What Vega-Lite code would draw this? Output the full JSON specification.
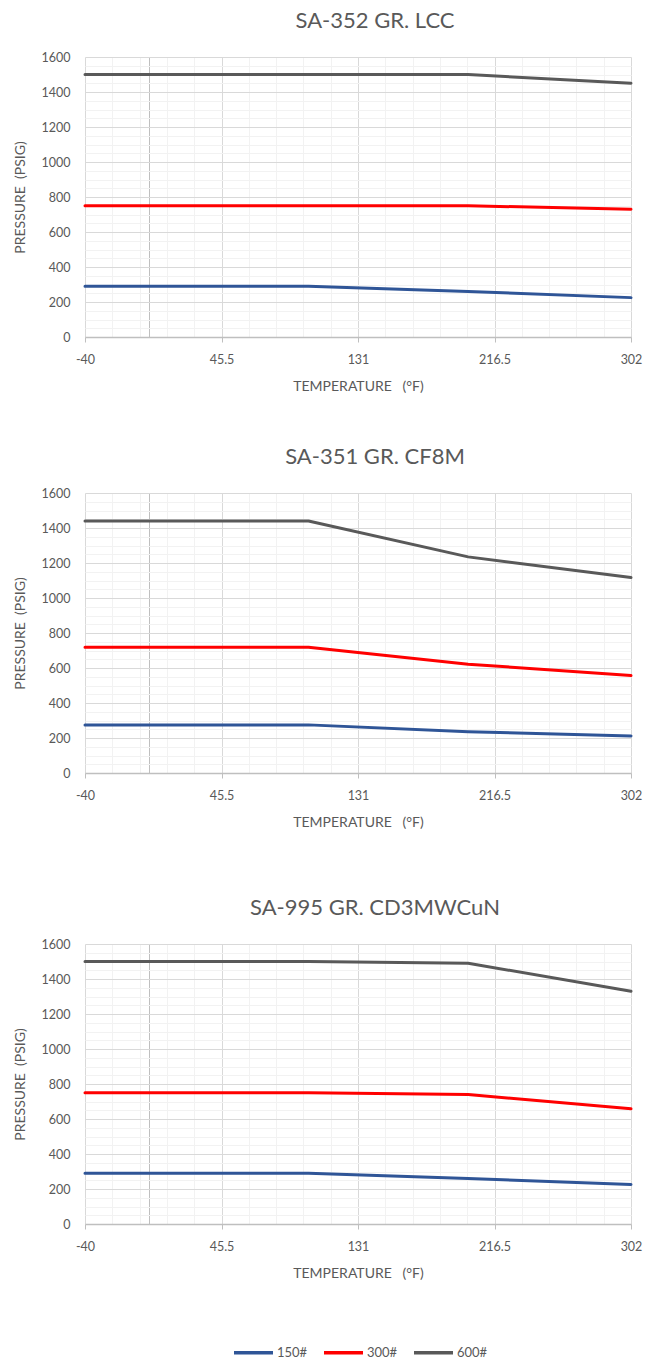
{
  "$schema": "https://vega.github.io/schema/vega-lite/v6.json",
  "background": "white",
  "padding": {"left": 13, "top": 10, "right": 5, "bottom": 5},
  "datasets": {
    "ratings": [
      {"material": "SA-352 GR. LCC", "cls": "150#", "temp": -40, "pressure": 290},
      {"material": "SA-352 GR. LCC", "cls": "150#", "temp": 100, "pressure": 290},
      {"material": "SA-352 GR. LCC", "cls": "150#", "temp": 200, "pressure": 260},
      {"material": "SA-352 GR. LCC", "cls": "150#", "temp": 302, "pressure": 225},
      {"material": "SA-352 GR. LCC", "cls": "300#", "temp": -40, "pressure": 750},
      {"material": "SA-352 GR. LCC", "cls": "300#", "temp": 100, "pressure": 750},
      {"material": "SA-352 GR. LCC", "cls": "300#", "temp": 200, "pressure": 750},
      {"material": "SA-352 GR. LCC", "cls": "300#", "temp": 302, "pressure": 730},
      {"material": "SA-352 GR. LCC", "cls": "600#", "temp": -40, "pressure": 1500},
      {"material": "SA-352 GR. LCC", "cls": "600#", "temp": 100, "pressure": 1500},
      {"material": "SA-352 GR. LCC", "cls": "600#", "temp": 200, "pressure": 1500},
      {"material": "SA-352 GR. LCC", "cls": "600#", "temp": 302, "pressure": 1450},
      {"material": "SA-351 GR. CF8M", "cls": "150#", "temp": -40, "pressure": 275},
      {"material": "SA-351 GR. CF8M", "cls": "150#", "temp": 100, "pressure": 275},
      {"material": "SA-351 GR. CF8M", "cls": "150#", "temp": 200, "pressure": 236},
      {"material": "SA-351 GR. CF8M", "cls": "150#", "temp": 302, "pressure": 212},
      {"material": "SA-351 GR. CF8M", "cls": "300#", "temp": -40, "pressure": 718},
      {"material": "SA-351 GR. CF8M", "cls": "300#", "temp": 100, "pressure": 718},
      {"material": "SA-351 GR. CF8M", "cls": "300#", "temp": 200, "pressure": 622},
      {"material": "SA-351 GR. CF8M", "cls": "300#", "temp": 302, "pressure": 557},
      {"material": "SA-351 GR. CF8M", "cls": "600#", "temp": -40, "pressure": 1440},
      {"material": "SA-351 GR. CF8M", "cls": "600#", "temp": 100, "pressure": 1440},
      {"material": "SA-351 GR. CF8M", "cls": "600#", "temp": 200, "pressure": 1235},
      {"material": "SA-351 GR. CF8M", "cls": "600#", "temp": 302, "pressure": 1117},
      {"material": "SA-995 GR. CD3MWCuN", "cls": "150#", "temp": -40, "pressure": 290},
      {"material": "SA-995 GR. CD3MWCuN", "cls": "150#", "temp": 100, "pressure": 290},
      {"material": "SA-995 GR. CD3MWCuN", "cls": "150#", "temp": 200, "pressure": 260},
      {"material": "SA-995 GR. CD3MWCuN", "cls": "150#", "temp": 302, "pressure": 226},
      {"material": "SA-995 GR. CD3MWCuN", "cls": "300#", "temp": -40, "pressure": 750},
      {"material": "SA-995 GR. CD3MWCuN", "cls": "300#", "temp": 100, "pressure": 750},
      {"material": "SA-995 GR. CD3MWCuN", "cls": "300#", "temp": 200, "pressure": 740},
      {"material": "SA-995 GR. CD3MWCuN", "cls": "300#", "temp": 302, "pressure": 658},
      {"material": "SA-995 GR. CD3MWCuN", "cls": "600#", "temp": -40, "pressure": 1500},
      {"material": "SA-995 GR. CD3MWCuN", "cls": "600#", "temp": 100, "pressure": 1500},
      {"material": "SA-995 GR. CD3MWCuN", "cls": "600#", "temp": 200, "pressure": 1490},
      {"material": "SA-995 GR. CD3MWCuN", "cls": "600#", "temp": 302, "pressure": 1330}
    ]
  },
  "config": {
    "font": "Lato",
    "view": {"stroke": null},
    "title": {"fontSize": 22, "fontWeight": "normal", "color": "#595959", "font": "Lato", "anchor": "middle", "frame": "group", "dx": 17, "offset": 18},
    "axis": {"labelFont": "Lato", "titleFont": "Lato", "labelFontSize": 12.5, "titleFontSize": 14, "labelColor": "#595959", "titleColor": "#595959", "titleFontWeight": "normal", "gridWidth": 1},
    "legend": {"orient": "none", "direction": "horizontal", "legendX": 147, "legendY": 1274, "symbolType": "stroke", "symbolSize": 1521, "symbolStrokeWidth": 3.5, "labelFontSize": 13, "labelColor": "#595959", "labelFont": "Lato", "columnPadding": 9, "labelOffset": 2, "symbolOffset": 0}
  },
  "spacing": 67,
  "vconcat": [
    {
      "spacing": 52,
      "vconcat": [
        {
          "title": {"text": "SA-352 GR. LCC"},
          "data": {"name": "ratings"},
          "transform": [{"filter": "datum.material === 'SA-352 GR. LCC'"}],
          "width": 546, "height": 280,
          "mark": {"type": "line", "strokeWidth": 3, "strokeCap": "round", "strokeJoin": "round"},
          "encoding": {
            "x": {"field": "temp", "type": "quantitative", "title": "TEMPERATURE\u00a0\u00a0\u00a0(°F)",
              "scale": {"domain": [-40, 302], "nice": false, "zero": false},
              "axis": {"values": [-40, -22.9, -5.8, 0, 11.3, 28.4, 45.5, 62.6, 79.7, 96.8, 113.9, 131, 148.1, 165.2, 182.3, 199.4, 216.5, 233.6, 250.7, 267.8, 284.9, 302],
                "labelExpr": "indexof([-40,45.5,131,216.5,302], datum.value) >= 0 ? '' + datum.value : ''",
                "grid": true,
                "gridColor": {"condition": [{"test": "datum.value === 0", "value": "#bfbfbf"}, {"test": "indexof([-40,45.5,131,216.5,302], datum.value) >= 0", "value": "#d9d9d9"}], "value": "#f2f2f2"},
                "tickOpacity": {"condition": {"test": "indexof([-40,45.5,131,216.5,302], datum.value) >= 0", "value": 1}, "value": 0},
                "tickColor": "#bfbfbf", "tickSize": 5, "domainColor": "#bfbfbf", "domainWidth": 1.3,
                "labelPadding": 11, "titlePadding": 14, "labelFlush": false, "labelOverlap": false}},
            "y": {"field": "pressure", "type": "quantitative", "title": "PRESSURE\u00a0\u00a0(PSIG)",
              "scale": {"domain": [0, 1600], "nice": false},
              "axis": {"values": [0,50,100,150,200,250,300,350,400,450,500,550,600,650,700,750,800,850,900,950,1000,1050,1100,1150,1200,1250,1300,1350,1400,1450,1500,1550,1600],
                "labelExpr": "datum.value % 200 === 0 ? '' + datum.value : ''",
                "grid": true,
                "gridColor": {"condition": {"test": "datum.value % 200 === 0", "value": "#d9d9d9"}, "value": "#f2f2f2"},
                "ticks": false, "domain": false, "labelPadding": 15, "titlePadding": 14, "labelOverlap": false}},
            "color": {"field": "cls", "type": "nominal", "title": null,
              "scale": {"domain": ["150#", "300#", "600#"], "range": ["#2F5597", "#FF0000", "#595959"]}}
          }
        },
        {
          "title": {"text": "SA-351 GR. CF8M"},
          "data": {"name": "ratings"},
          "transform": [{"filter": "datum.material === 'SA-351 GR. CF8M'"}],
          "width": 546, "height": 280,
          "mark": {"type": "line", "strokeWidth": 3, "strokeCap": "round", "strokeJoin": "round"},
          "encoding": {
            "x": {"field": "temp", "type": "quantitative", "title": "TEMPERATURE\u00a0\u00a0\u00a0(°F)",
              "scale": {"domain": [-40, 302], "nice": false, "zero": false},
              "axis": {"values": [-40, -22.9, -5.8, 0, 11.3, 28.4, 45.5, 62.6, 79.7, 96.8, 113.9, 131, 148.1, 165.2, 182.3, 199.4, 216.5, 233.6, 250.7, 267.8, 284.9, 302],
                "labelExpr": "indexof([-40,45.5,131,216.5,302], datum.value) >= 0 ? '' + datum.value : ''",
                "grid": true,
                "gridColor": {"condition": [{"test": "datum.value === 0", "value": "#bfbfbf"}, {"test": "indexof([-40,45.5,131,216.5,302], datum.value) >= 0", "value": "#d9d9d9"}], "value": "#f2f2f2"},
                "tickOpacity": {"condition": {"test": "indexof([-40,45.5,131,216.5,302], datum.value) >= 0", "value": 1}, "value": 0},
                "tickColor": "#bfbfbf", "tickSize": 5, "domainColor": "#bfbfbf", "domainWidth": 1.3,
                "labelPadding": 11, "titlePadding": 14, "labelFlush": false, "labelOverlap": false}},
            "y": {"field": "pressure", "type": "quantitative", "title": "PRESSURE\u00a0\u00a0(PSIG)",
              "scale": {"domain": [0, 1600], "nice": false},
              "axis": {"values": [0,50,100,150,200,250,300,350,400,450,500,550,600,650,700,750,800,850,900,950,1000,1050,1100,1150,1200,1250,1300,1350,1400,1450,1500,1550,1600],
                "labelExpr": "datum.value % 200 === 0 ? '' + datum.value : ''",
                "grid": true,
                "gridColor": {"condition": {"test": "datum.value % 200 === 0", "value": "#d9d9d9"}, "value": "#f2f2f2"},
                "ticks": false, "domain": false, "labelPadding": 15, "titlePadding": 14, "labelOverlap": false}},
            "color": {"field": "cls", "type": "nominal", "title": null,
              "scale": {"domain": ["150#", "300#", "600#"], "range": ["#2F5597", "#FF0000", "#595959"]}}
          }
        }
      ]
    },
    {
      "title": {"text": "SA-995 GR. CD3MWCuN"},
      "data": {"name": "ratings"},
      "transform": [{"filter": "datum.material === 'SA-995 GR. CD3MWCuN'"}],
      "width": 546, "height": 280,
      "mark": {"type": "line", "strokeWidth": 3, "strokeCap": "round", "strokeJoin": "round"},
      "encoding": {
        "x": {"field": "temp", "type": "quantitative", "title": "TEMPERATURE\u00a0\u00a0\u00a0(°F)",
          "scale": {"domain": [-40, 302], "nice": false, "zero": false},
          "axis": {"values": [-40, -22.9, -5.8, 0, 11.3, 28.4, 45.5, 62.6, 79.7, 96.8, 113.9, 131, 148.1, 165.2, 182.3, 199.4, 216.5, 233.6, 250.7, 267.8, 284.9, 302],
            "labelExpr": "indexof([-40,45.5,131,216.5,302], datum.value) >= 0 ? '' + datum.value : ''",
            "grid": true,
            "gridColor": {"condition": [{"test": "datum.value === 0", "value": "#bfbfbf"}, {"test": "indexof([-40,45.5,131,216.5,302], datum.value) >= 0", "value": "#d9d9d9"}], "value": "#f2f2f2"},
            "tickOpacity": {"condition": {"test": "indexof([-40,45.5,131,216.5,302], datum.value) >= 0", "value": 1}, "value": 0},
            "tickColor": "#bfbfbf", "tickSize": 5, "domainColor": "#bfbfbf", "domainWidth": 1.3,
            "labelPadding": 11, "titlePadding": 14, "labelFlush": false, "labelOverlap": false}},
        "y": {"field": "pressure", "type": "quantitative", "title": "PRESSURE\u00a0\u00a0(PSIG)",
          "scale": {"domain": [0, 1600], "nice": false},
          "axis": {"values": [0,50,100,150,200,250,300,350,400,450,500,550,600,650,700,750,800,850,900,950,1000,1050,1100,1150,1200,1250,1300,1350,1400,1450,1500,1550,1600],
            "labelExpr": "datum.value % 200 === 0 ? '' + datum.value : ''",
            "grid": true,
            "gridColor": {"condition": {"test": "datum.value % 200 === 0", "value": "#d9d9d9"}, "value": "#f2f2f2"},
            "ticks": false, "domain": false, "labelPadding": 15, "titlePadding": 14, "labelOverlap": false}},
        "color": {"field": "cls", "type": "nominal", "title": null,
          "scale": {"domain": ["150#", "300#", "600#"], "range": ["#2F5597", "#FF0000", "#595959"]}}
      }
    }
  ]
}
